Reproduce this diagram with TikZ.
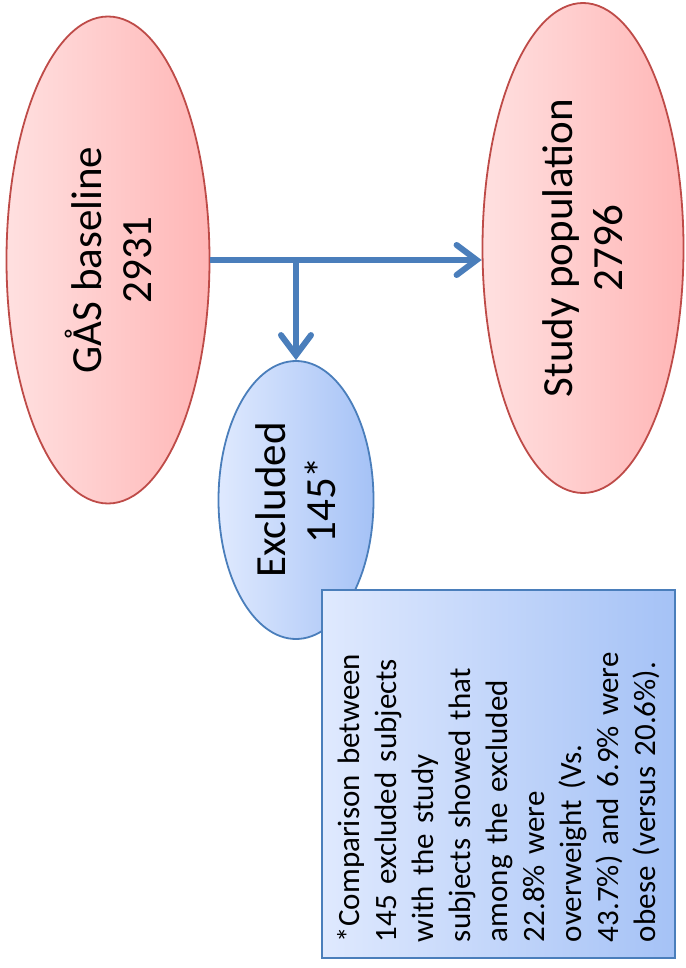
\documentclass[tikz,border=0pt]{standalone}
\usepackage{fontspec}
\setmainfont{Carlito}
\usetikzlibrary{shapes.geometric,arrows.meta}
\definecolor{pinkL}{HTML}{FFE0E0}
\definecolor{pinkD}{HTML}{FFB6B6}
\definecolor{redline}{HTML}{BE4B48}
\definecolor{blueL}{HTML}{DFE9FE}
\definecolor{blueD}{HTML}{A5C2F6}
\definecolor{blueline}{HTML}{4A7EBB}
\begin{document}
\begin{tikzpicture}[x=0.5pt,y=-0.5pt]
	%\draw[help lines] (0,0) grid (685,968);
	\useasboundingbox (0,0) rectangle (685,968);
	
	\tikzset{
		oval/.style = {ellipse, rotate=90, line width=0.9pt, inner sep=0pt, align=center,
			font=\fontsize{21.5}{25}\selectfont},
		redoval/.style = {oval, draw=redline, left color=pinkL, right color=pinkD},
		blueoval/.style = {oval, draw=blueline, left color=blueL, right color=blueD},
		notebox/.style = {rectangle, rotate=90, draw=blueline, line width=0.9pt,
			left color=blueL, right color=blueD, text width=168pt, align=left,
			font=\fontsize{15.5}{18.5}\selectfont},
		flow/.style = {draw=blueline, line width=3pt,
			-{Straight Barb[length=10pt,width=15pt,line cap=round]}}
	}
	
	\node[redoval, minimum width=243.5pt, minimum height=101.5pt] (base) at (108,260) {GÅS baseline\\2931};
	\node[redoval, minimum width=245pt, minimum height=100.5pt] (study) at (583,248) {Study population\\2796};
	\node[blueoval, minimum width=139pt, minimum height=77.5pt] (excl) at (296,500) {Excluded\\145*};
	
	\node[notebox, minimum width=184pt, minimum height=176.5pt] (note) at (498.5,774)
		{*Comparison between\\145 excluded subjects\\with the study\\subjects showed that\\among the excluded\\22.8\% were\\overweight (Vs.\\43.7\%) and 6.9\% were\\obese (versus 20.6\%).};
	
	\coordinate (split) at (excl.east |- base.south);
	\draw[flow] (base.south) -- (study.north |- base.south);
	\draw[flow] (split) -- (excl.east);
\end{tikzpicture}
\end{document}
